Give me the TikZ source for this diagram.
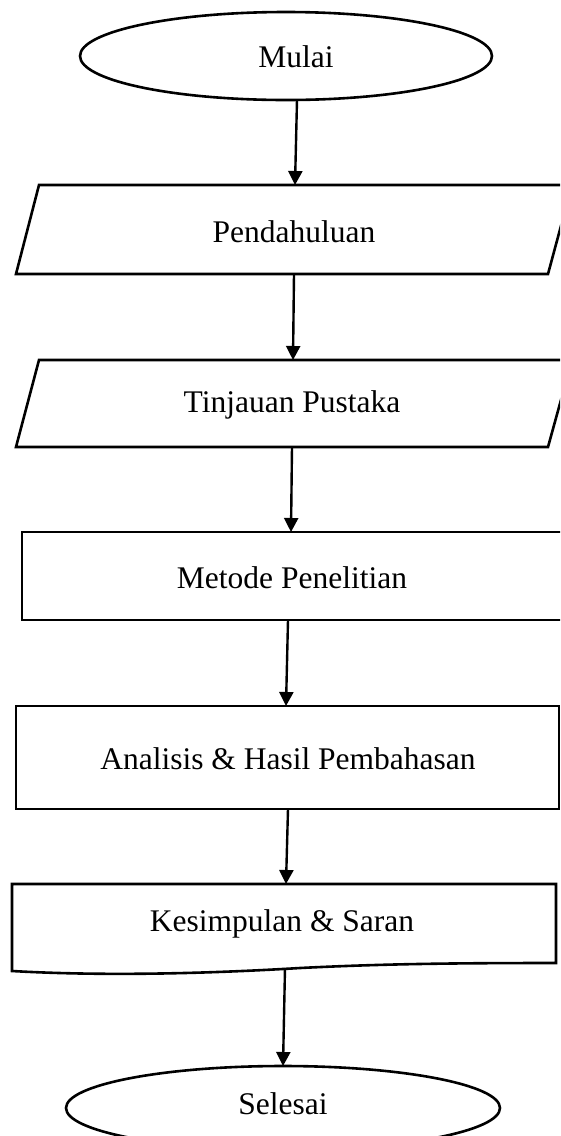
\documentclass[tikz,border=0pt]{standalone}
\usepackage{fontspec}
\setmainfont{Liberation Serif}
\usetikzlibrary{arrows.meta,shapes.geometric}
\begin{document}
\begin{tikzpicture}[x=1pt,y=-1pt,
  shapeline/.style={draw=black,line width=2.6pt,line join=miter},
  lbl/.style={font=\fontsize{31.5}{36}\selectfont,inner sep=0pt,anchor=center},
  flow/.style={line width=2.4pt,-{Triangle[length=14pt,width=14pt]}},
  termshape/.style={ellipse,draw=black,line width=2.6pt,inner sep=0pt}
]
\clip (0,0) rectangle (560,1136);
\fill[white] (0,0) rectangle (560,1136);

% Mulai
\node[termshape,minimum width=412pt,minimum height=88pt] (mulaiE) at (286,56) {};
\node[lbl] (mulai) at (296,57) {Mulai};
\coordinate (mulaiB) at (297,100);

% Pendahuluan
\draw[shapeline] (39,185) -- (572,185) -- (548,274) -- (16,274) -- cycle;
\node[lbl] (pend) at (294,232) {Pendahuluan};
\coordinate (pendT) at (295,185);
\coordinate (pendB) at (294,274);

% Tinjauan Pustaka
\draw[shapeline] (39,360) -- (572,360) -- (548,447) -- (16,447) -- cycle;
\node[lbl] (tinj) at (292,405) {Tinjauan Pustaka};
\coordinate (tinjT) at (293,360);
\coordinate (tinjB) at (292,447);

% Metode Penelitian
\draw[shapeline] (22,532) rectangle (575,620);
\node[lbl] (metode) at (292,578) {Metode Penelitian};
\coordinate (metT) at (291,532);
\coordinate (metB) at (288,620);

% Analisis
\draw[shapeline] (16,706) rectangle (559,809);
\node[lbl] (anal) at (288,759) {Analisis \& Hasil Pembahasan};
\coordinate (anT) at (286,706);
\coordinate (anB) at (288,809);

% Kesimpulan
\draw[shapeline] (12,884) -- (556,884) -- (556,963)
  .. controls (450,963) and (380,964) .. (300,968)
  .. controls (200,974) and (100,976) .. (12,971) -- cycle;
\node[lbl] (kes) at (282,924) {Kesimpulan \& Saran};
\coordinate (kesT) at (286,884);
\coordinate (kesB) at (285,968);

% Selesai
\node[termshape,minimum width=434pt,minimum height=84pt] (selE) at (283,1108) {};
\node[lbl] (sel) at (283,1104) {Selesai};
\coordinate (selT) at (283,1066);

% connectors
\draw[flow] (mulaiB) -- (pendT);
\draw[flow] (pendB) -- (tinjT);
\draw[flow] (tinjB) -- (metT);
\draw[flow] (metB) -- (anT);
\draw[flow] (anB) -- (kesT);
\draw[flow] (kesB) -- (selT);
\end{tikzpicture}
\end{document}
